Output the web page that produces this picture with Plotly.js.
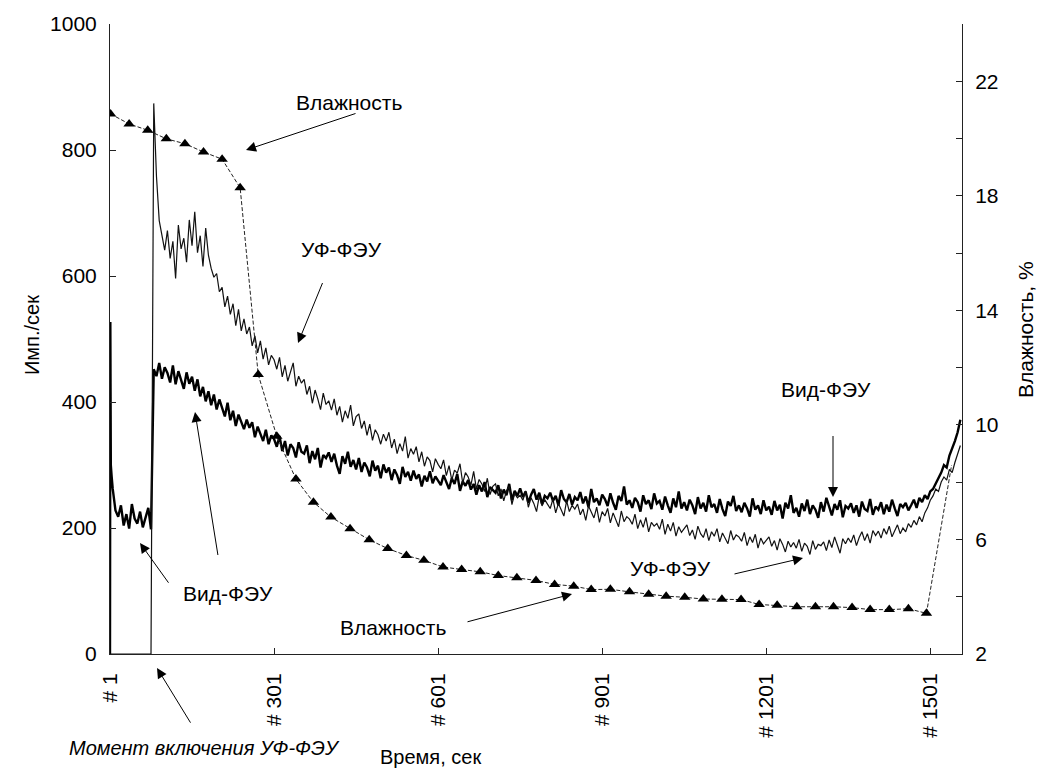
<!DOCTYPE html>
<html><head><meta charset="utf-8">
<script src="https://cdn.plot.ly/plotly-3.0.1.min.js"></script>
<style>html,body{margin:0;padding:0;background:#fff}</style>
</head><body><div id="chart" style="width:1037px;height:768px"></div>
<script>
// ---- data ----
const xTickVals = [1, 301, 601, 901, 1201, 1501];
const xTickText = ['# 1', '# 301', '# 601', '# 901', '# 1201', '# 1501'];

// Vis-PMT start-up burst
const visStartSec = [1, 1.6, 2.5, 4];
const visStartCounts = [0, 527, 300, 282];

// regular samples, seconds 6, 11, 16, ... 1556
const sampleStartSec = 6;
const sampleStepSec = 5;

const visCounts = [
262,228,218,236,204,222,199,238,215,207,
226,201,219,232,198,452,441,462,437,455,
446,431,458,428,449,436,421,447,429,440,
418,436,409,424,401,417,395,412,388,404,
392,377,399,371,386,362,380,368,357,372,
359,368,344,361,349,338,356,333,347,341,
329,346,322,338,315,333,327,312,336,321,
318,331,303,322,309,327,296,316,311,320,
305,318,299,286,314,302,321,297,308,293,
311,289,304,296,282,307,291,299,279,301,
288,296,276,293,284,270,297,281,289,275,
291,278,285,266,283,274,290,271,282,276,
268,284,273,262,279,270,286,259,274,267,
276,261,270,253,268,258,273,249,265,260,
256,268,247,261,252,270,244,259,251,263,
249,258,240,253,262,245,256,238,251,247,
256,243,251,236,260,246,241,254,237,249,
244,257,239,250,233,262,241,247,236,253,
246,235,255,240,229,251,243,266,237,244,
232,248,241,226,252,238,244,230,255,239,
243,229,250,236,224,247,233,258,231,241,
228,245,236,222,249,231,240,226,252,233,
238,224,246,230,219,242,235,251,227,236,
225,240,231,218,247,229,236,222,244,228,
234,221,243,228,237,215,240,231,252,224,
232,218,239,227,245,222,236,229,216,241,
226,248,233,220,238,229,244,217,235,231,
239,224,236,218,242,230,227,246,221,234,
229,241,222,237,226,245,231,219,238,233,
240,228,236,245,232,248,241,252,246,258,
262,270,279,288,300,296,315,326,338,352,
372];

const uvCounts = [
0,0,0,0,0,0,0,0,0,0,
0,0,0,0,0,874,758,688,662,641,
672,628,655,596,681,643,660,622,689,648,
702,637,664,615,676,633,612,598,604,575,
582,551,568,539,556,521,547,513,532,508,
519,489,505,478,497,468,486,459,474,467,
452,471,440,458,433,449,462,425,441,430,
436,412,425,398,419,405,388,414,396,402,
387,405,379,393,368,386,374,395,362,377,
381,358,370,347,365,339,356,348,333,349,
338,352,327,341,318,334,322,345,311,326,
317,329,305,321,298,313,307,289,310,301,
294,308,283,299,276,292,287,302,271,288,
281,268,290,262,277,270,258,279,253,266,
270,251,262,243,259,266,237,255,248,252,
244,259,233,248,239,226,251,235,245,238,
231,246,224,239,228,219,243,226,236,230,
238,221,230,212,235,224,216,233,209,226,
219,231,208,224,213,202,227,210,218,214,
206,222,199,213,201,217,194,209,203,207,
198,214,190,206,195,209,187,202,193,199,
205,188,197,182,203,191,185,199,180,194,
187,199,178,192,183,175,196,181,189,186,
179,193,172,186,177,190,168,184,175,181,
186,171,180,165,183,174,162,179,170,177,
168,182,163,176,171,158,180,166,174,172,
178,164,181,169,186,173,160,183,175,184,
177,189,172,185,194,180,191,176,196,188,
195,184,199,190,203,186,197,205,191,200,
194,207,201,212,205,218,210,224,232,244,
251,262,258,273,281,276,293,288,304,318,
331];

// humidity readings (triangles) and the final reading at the end of the run
const humiditySec = [2,36,70,104,138,172,206,239,272,306,341,373,405,440,475,509,543,575,610,644,
  678,711,745,780,814,849,881,916,951,986,1018,1052,1086,1120,1155,1188,1221,1257,1291,1324,
  1358,1391,1426,1461,1494];
const humidityPct = [20.86,20.51,20.29,19.99,19.82,19.53,19.28,18.28,11.76,9.6,8.11,7.30,6.78,6.37,5.99,5.68,5.44,5.27,5.04,4.95,
  4.87,4.74,4.66,4.57,4.43,4.37,4.25,4.26,4.17,4.09,4.02,3.98,3.92,3.91,3.90,3.73,3.70,3.65,3.65,3.65,
  3.62,3.55,3.55,3.58,3.42];
const humidityEndSec = 1540;
const humidityEndPct = 8.6;

// ---- build ----
const sampleSec = visCounts.map((_, i) => sampleStartSec + sampleStepSec * i);
const FONT = 'Liberation Sans, Arial, sans-serif';
const lastH = humidityPct.length - 1;

const traces = [
  {x: visStartSec.concat(sampleSec), y: visStartCounts.concat(visCounts), type: 'scatter', mode: 'lines',
   line: {color: '#000', width: 2.4}, xaxis: 'x', yaxis: 'y', hoverinfo: 'skip'},
  {x: [1].concat(sampleSec), y: [0].concat(uvCounts), type: 'scatter', mode: 'lines',
   line: {color: '#111', width: 1.2}, xaxis: 'x', yaxis: 'y', hoverinfo: 'skip'},
  {x: [humiditySec[lastH], humidityEndSec], y: [humidityPct[lastH], humidityEndPct], type: 'scatter', mode: 'lines',
   line: {color: '#222', width: 1, dash: '4px,2px'}, xaxis: 'x', yaxis: 'y2', hoverinfo: 'skip'},
  {x: humiditySec, y: humidityPct, type: 'scatter', mode: 'lines+markers',
   line: {color: '#222', width: 1, dash: '4px,2px'},
   marker: {symbol: 'triangle-up', size: 10, color: '#000', opacity: 1, line: {width: 0}},
   xaxis: 'x', yaxis: 'y2', hoverinfo: 'skip'}
];

const txt = (text, x, y, extra) => Object.assign({text, x, y, xref: 'paper', yref: 'paper',
  showarrow: false, font: {family: FONT, size: 21, color: '#000'}, xanchor: 'center', yanchor: 'middle'}, extra || {});
const arr = (x, y, ax, ay) => ({text: ' ', x, y, xref: 'paper', yref: 'paper', ax, ay, showarrow: true,
  arrowhead: 2, arrowsize: 2, arrowwidth: 1, arrowcolor: '#000', standoff: 0, startstandoff: 0});
const px = v => (v - 110) / 852;
const py = v => (654 - v) / 630;

const annotations = [
  txt('Влажность', px(349), py(102)),
  txt('УФ-ФЭУ', px(341), py(250)),
  txt('Вид-ФЭУ', px(826), py(390)),
  txt('УФ-ФЭУ', px(670), py(568)),
  txt('Влажность', px(393), py(627)),
  txt('Вид-ФЭУ', px(228), py(593)),
  txt('Момент включения УФ-ФЭУ', px(204), py(748), {font: {family: FONT, size: 20, color: '#000', style: 'italic'}}),
  txt('Время, сек', px(430), py(757), {font: {family: FONT, size: 20, color: '#000'}}),
  txt('Имп./сек', px(32), py(335), {textangle: -90, font: {family: FONT, size: 20, color: '#000'}}),
  txt('Влажность, %', px(1025), py(330), {textangle: -90}),
  arr(px(246), py(150), 114, -38),
  arr(px(298), py(343), 29, -71),
  arr(px(833), py(497), 0, -74),
  arr(px(803), py(558), -73, 17),
  arr(px(572), py(594), -109, 29),
  arr(px(140), py(543), 33, 46),
  arr(px(195), py(412), 25, 156),
  arr(px(157), py(668), 38, 62)
];

const layout = {
  width: 1037, height: 768,
  margin: {l: 110, r: 75, t: 24, b: 114, pad: 0},
  paper_bgcolor: '#fff', plot_bgcolor: '#fff',
  showlegend: false,
  font: {family: FONT, size: 21, color: '#000'},
  xaxis: {range: [1, 1559], tickvals: xTickVals, ticktext: xTickText, tickangle: -90,
    ticks: 'inside', ticklen: 6, tickcolor: '#222', showline: true, linecolor: '#222', linewidth: 1,
    showgrid: false, zeroline: false, tickfont: {family: FONT, size: 21}, ticklabelstandoff: 10},
  yaxis: {range: [0, 1000], tickvals: [0, 200, 400, 600, 800, 1000], ticks: 'inside', ticklen: 6,
    tickcolor: '#222', showline: true, linecolor: '#222', linewidth: 1, showgrid: false, zeroline: false,
    tickfont: {family: FONT, size: 21}, ticklabelstandoff: 8},
  yaxis2: {range: [2, 24], overlaying: 'y', side: 'right', anchor: 'x',
    tickvals: [2,4,6,8,10,12,14,16,18,20,22,24], ticktext: ['2','','6','','10','','14','','18','','22',''],
    ticks: 'inside', ticklen: 6, tickcolor: '#222', showline: true, linecolor: '#222', linewidth: 1,
    showgrid: false, zeroline: false, tickfont: {family: FONT, size: 21}, ticklabelstandoff: 8},
  annotations
};

Plotly.newPlot('chart', traces, layout, {staticPlot: true, displayModeBar: false});
</script></body></html>
